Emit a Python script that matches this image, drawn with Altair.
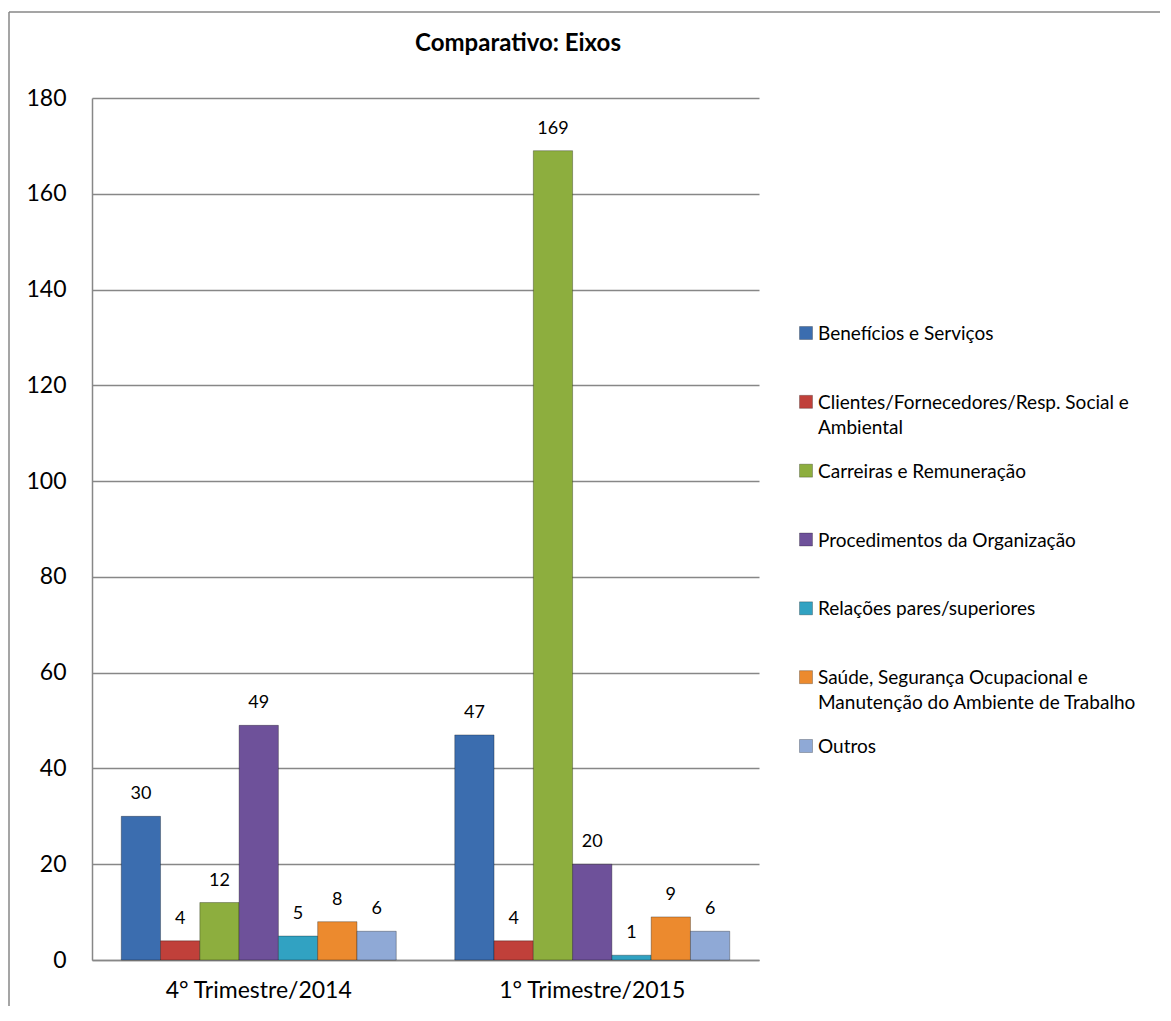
import altair as alt
import pandas as pd

categories = ["4° Trimestre/2014", "1° Trimestre/2015"]
series = [
    "Benefícios e Serviços",
    "Clientes/Fornecedores/Resp. Social e Ambiental",
    "Carreiras e Remuneração",
    "Procedimentos da Organização",
    "Relações pares/superiores",
    "Saúde, Segurança Ocupacional e Manutenção do Ambiente de Trabalho",
    "Outros",
]
legend_labels = [
    "Benefícios e Serviços",
    "Clientes/Fornecedores/Resp. Social e\nAmbiental",
    "Carreiras e Remuneração",
    "Procedimentos da Organização",
    "Relações pares/superiores",
    "Saúde, Segurança Ocupacional e\nManutenção do Ambiente de Trabalho",
    "Outros",
]
values_2014 = [30, 4, 12, 49, 5, 8, 6]
values_2015 = [47, 4, 169, 20, 1, 9, 6]
colors = ["#3B6DAF", "#C0403A", "#8DAE3E", "#6E519A", "#31A2C2", "#EC8A2E", "#8FA9D6"]
y_ticks = [0, 20, 40, 60, 80, 100, 120, 140, 160, 180]
title_text = ["Comparativo: Eixos"]

rows = []
for cat, vals in zip(categories, [values_2014, values_2015]):
    for s, v in zip(series, vals):
        rows.append({"categoria": cat, "serie": s, "valor": v})
df = pd.DataFrame(rows)
df_leg = pd.DataFrame({"serie": series, "rotulo": legend_labels})
df_title = pd.DataFrame({"titulo": title_text})

FONT = "Lato"
GRID = "#878787"
W, H = 667, 862

color_scale = alt.Scale(domain=series, range=colors)

x_enc = alt.X(
    "categoria:N",
    sort=categories,
    scale=alt.Scale(paddingInner=0, paddingOuter=0),
    axis=alt.Axis(
        title=None, labelAngle=0, ticks=False, labelPadding=19,
        labelFontSize=23, labelFont=FONT, labelColor="#000000",
        labelLimit=0, domainColor=GRID, domainWidth=1.5, grid=False,
    ),
)
xoff_enc = alt.XOffset(
    "serie:N", sort=series,
    scale=alt.Scale(paddingInner=0, paddingOuter=0.745),
)
y_enc = alt.Y(
    "valor:Q",
    scale=alt.Scale(domain=[0, 180], nice=False),
    axis=alt.Axis(
        title=None, values=y_ticks, ticks=False, labelPadding=26,
        labelFontSize=23, labelFont=FONT, labelColor="#000000",
        grid=True, gridColor=GRID, gridWidth=1.5,
        domainColor=GRID, domainWidth=1.5,
    ),
)

base = alt.Chart(df)

bars = base.mark_bar(stroke="#000000", strokeOpacity=0.3, strokeWidth=1).encode(
    x=x_enc,
    xOffset=xoff_enc,
    y=y_enc,
    color=alt.Color("serie:N", scale=color_scale, legend=None),
)

labels = base.mark_text(
    baseline="middle", dy=-22, fontSize=18, font=FONT, color="#000000"
).encode(
    x=alt.X("categoria:N", sort=categories),
    xOffset=alt.XOffset("serie:N", sort=series),
    y=alt.Y("valor:Q"),
    text=alt.Text("valor:Q"),
)

leg_y = alt.Y(
    "serie:N",
    sort=series,
    scale=alt.Scale(type="point", domain=series, range=[235, 648], padding=0),
    axis=None,
)

leg_sq = alt.Chart(df_leg).mark_square(
    size=169, opacity=1, stroke="#000000", strokeOpacity=0.25, strokeWidth=1
).encode(
    x=alt.value(714),
    y=leg_y,
    color=alt.Color("serie:N", scale=color_scale, legend=None),
)

leg_txt = alt.Chart(df_leg).mark_text(
    align="left", baseline="top", dy=-8, fontSize=19, font=FONT,
    color="#000000", lineBreak="\n", lineHeight=25,
).encode(
    x=alt.value(726),
    y=leg_y,
    text=alt.Text("rotulo:N"),
)

title = alt.Chart(df_title).mark_text(
    align="center", baseline="middle", fontSize=24, fontWeight="bold",
    font=FONT, color="#000000",
).encode(
    x=alt.value(426),
    y=alt.value(-54),
    text=alt.Text("titulo:N"),
)

border_left = alt.Chart(df_title).mark_rule(color=GRID, strokeWidth=1.5).encode(
    x=alt.value(-83), y=alt.value(-86), y2=alt.value(908)
)
border_top = alt.Chart(df_title).mark_rule(color=GRID, strokeWidth=1.5).encode(
    x=alt.value(-83), x2=alt.value(1068), y=alt.value(-86)
)

main = alt.layer(bars, labels)
legend = alt.layer(leg_sq, leg_txt)

chart = (
    alt.layer(border_left, border_top, title, main, legend)
    .resolve_scale(y="independent")
    .properties(
        width=W,
        height=H,
        padding={"left": 0, "top": 3, "right": 0, "bottom": 0},
    )
    .configure_view(stroke=None)
)

chart.save("out.html", embed_options={"renderer": "svg", "actions": False})
